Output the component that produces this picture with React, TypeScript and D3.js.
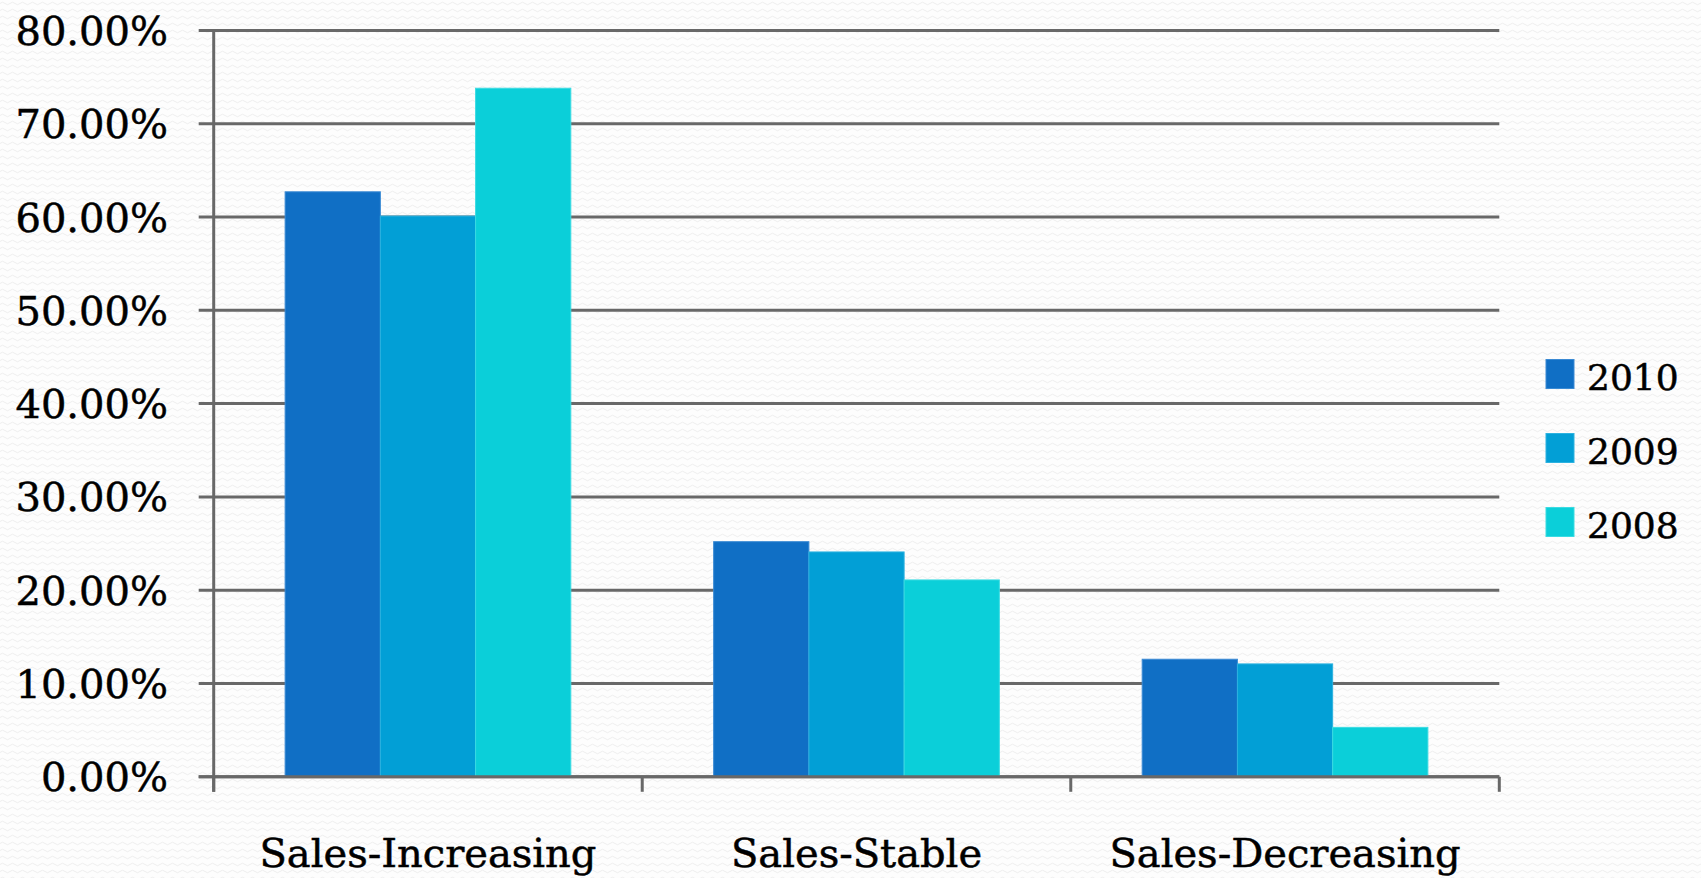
import React from "react";
import * as d3 from "d3";

const categories = ["Sales-Increasing", "Sales-Stable", "Sales-Decreasing"];
const seriesNames = ["2010", "2009", "2008"];
const values2010 = [62.7, 25.2, 12.6];
const values2009 = [60.1, 24.1, 12.1];
const values2008 = [73.8, 21.1, 5.3];
const yTicks = [0, 10, 20, 30, 40, 50, 60, 70, 80];
const colors = ["#106fc5", "#029fd6", "#0bcfd9"];
const strokes = ["#3a8ad4", "#2cb2e0", "#3adbe2"];

const W = 1701;
const H = 878;

export default function App() {
  const seriesValues = [values2010, values2009, values2008];
  const y = d3.scaleLinear().domain([0, 80]).range([776.8, 30.4]);
  const x = d3.scaleBand().domain(categories).range([213.7, 1499.3]).paddingInner(0).paddingOuter(0);
  const xs = d3
    .scaleBand()
    .domain(seriesNames)
    .range([0, x.bandwidth()])
    .paddingInner(0)
    .paddingOuter(0.75);
  const font = "'DejaVu Serif', serif";
  const grid = "#686868";
  const gw = 3;
  const [x0, x1] = x.range();
  const boundaries = [...categories.map((c) => x(c) as number), x1];
  return (
    <svg
      width={W}
      height={H}
      style={{ position: "absolute", left: 0, top: 0, background: "#fff" }}
    >
      <defs>
        <pattern id="wave" width="10" height="7" patternUnits="userSpaceOnUse">
          <path d="M0 3.5 Q2.5 1 5 3.5 T10 3.5" fill="none" stroke="#eeeeee" strokeWidth="1" />
        </pattern>
      </defs>
      <rect x={0} y={0} width={W} height={H} fill="#fdfdfd" />
      <rect x={0} y={0} width={W} height={H} fill="url(#wave)" />
      {/* gridlines */}
      {yTicks.map((t) => (
        <line
          key={"g" + t}
          x1={x0 - 15}
          x2={x1}
          y1={y(t)}
          y2={y(t)}
          stroke={grid}
          strokeWidth={gw}
        />
      ))}
      {/* y tick labels */}
      {yTicks.map((t) => (
        <text
          key={"t" + t}
          x={168}
          y={y(t) + 14.5}
          textAnchor="end"
          fontFamily={font}
          fontSize={40}
          fill="#000"
          stroke="#000"
          strokeWidth={0.5}
        >
          {t.toFixed(2) + "%"}
        </text>
      ))}
      {/* bars */}
      {categories.map((c, ci) =>
        seriesNames.map((s, si) => {
          const v = seriesValues[si][ci];
          const bx = (x(c) as number) + (xs(s) as number);
          return (
            <rect
              key={c + s}
              x={bx}
              y={y(v)}
              width={xs.bandwidth()}
              height={y(0) - y(v)}
              fill={colors[si]}
              stroke={strokes[si]}
              strokeWidth={1}
            />
          );
        })
      )}
      {/* y axis line */}
      <line x1={x0} x2={x0} y1={y(80)} y2={y(0) + 15} stroke={grid} strokeWidth={gw} />
      {/* x axis line */}
      <line x1={x0 - 15} x2={x1} y1={y(0)} y2={y(0)} stroke={grid} strokeWidth={gw} />
      {boundaries.map((b, i) => (
        <line key={"b" + i} x1={b} x2={b} y1={y(0)} y2={y(0) + 15} stroke={grid} strokeWidth={gw} />
      ))}
      {/* category labels */}
      {categories.map((c) => (
        <text
          key={"c" + c}
          x={(x(c) as number) + x.bandwidth() / 2}
          y={867}
          textAnchor="middle"
          fontFamily={font}
          fontSize={40}
          fill="#000"
          stroke="#000"
          strokeWidth={0.5}
        >
          {c}
        </text>
      ))}
      {/* legend */}
      {seriesNames.map((s, i) => {
        const cy = 374 + i * 74;
        return (
          <g key={"l" + s}>
            <rect x={1546} y={cy - 14.5} width={28} height={29} fill={colors[i]} stroke={strokes[i]} strokeWidth={1} />
            <text
              x={1587}
              y={cy + 16}
              fontFamily={font}
              fontSize={36}
              fill="#000"
              stroke="#000"
              strokeWidth={0.5}
            >
              {s}
            </text>
          </g>
        );
      })}
    </svg>
  );
}
